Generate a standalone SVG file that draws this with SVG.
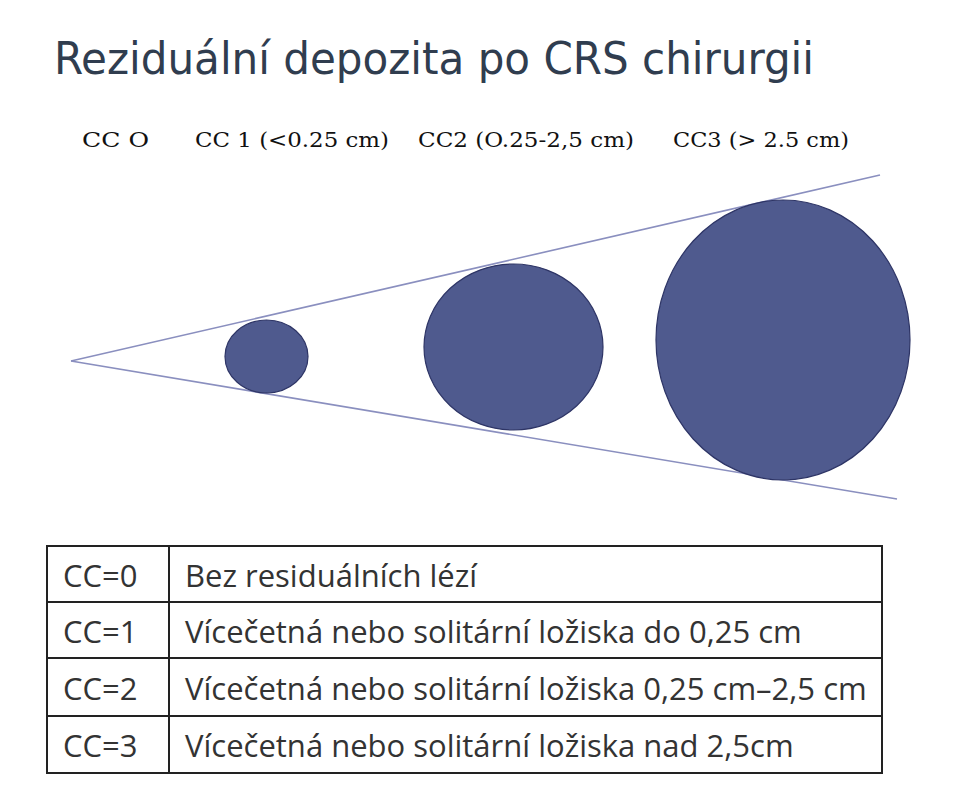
<svg xmlns="http://www.w3.org/2000/svg" width="965" height="800" viewBox="0 0 965 800">
<style>
.title{font-family:"DejaVu Sans Condensed","DejaVu Sans",sans-serif;font-size:45px;fill:#303d4f}
.lbl{font-family:"DejaVu Serif","Liberation Serif",serif;font-size:21px;fill:#111}
.cell{font-family:"Open Sans","Noto Sans",sans-serif;font-size:31px;fill:#333}
.blob{fill:#4f5a8e;stroke:#2e3566;stroke-width:1.2}
.ray{stroke:#8a8fbf;stroke-width:1.6;fill:none}
.grid{stroke:#222;stroke-width:2;fill:none}
</style>
<rect width="965" height="800" fill="#fff"/>
<text class="title" x="54" y="74" textLength="760" lengthAdjust="spacingAndGlyphs">Reziduální depozita po CRS chirurgii</text>
<g id="labels">
<text class="lbl" x="82" y="147" textLength="67" lengthAdjust="spacingAndGlyphs">CC O</text>
<text class="lbl" x="195" y="147" textLength="194" lengthAdjust="spacingAndGlyphs">CC 1  (&lt;0.25 cm)</text>
<text class="lbl" x="418" y="147" textLength="216" lengthAdjust="spacingAndGlyphs">CC2 (O.25-2,5 cm)</text>
<text class="lbl" x="673" y="147" textLength="176" lengthAdjust="spacingAndGlyphs">CC3 (&gt; 2.5 cm)</text>
</g>
<g id="connectors">
<line class="ray" x1="71" y1="361" x2="880" y2="175"/>
<line class="ray" x1="71" y1="361" x2="897" y2="499"/>
</g>
<g id="cc1"><ellipse class="blob" cx="266.5" cy="356.5" rx="41.5" ry="36.5"/></g>
<g id="cc2"><ellipse class="blob" cx="513.5" cy="347" rx="89.5" ry="83"/></g>
<g id="cc3"><ellipse class="blob" cx="783" cy="340" rx="127" ry="140"/></g>
<g id="table">
<rect class="grid" x="47" y="546" width="835" height="227"/>
<line class="grid" x1="47" y1="602" x2="882" y2="602"/>
<line class="grid" x1="47" y1="658" x2="882" y2="658"/>
<line class="grid" x1="47" y1="716" x2="882" y2="716"/>
<line class="grid" x1="169" y1="546" x2="169" y2="773"/>
<text class="cell" x="63" y="587">CC=0</text>
<text class="cell" x="185" y="587">Bez residuálních lézí</text>
<text class="cell" x="63" y="643">CC=1</text>
<text class="cell" x="185" y="643">Vícečetná nebo solitární ložiska do 0,25 cm</text>
<text class="cell" x="63" y="700">CC=2</text>
<text class="cell" x="185" y="700">Vícečetná nebo solitární ložiska 0,25 cm–2,5 cm</text>
<text class="cell" x="63" y="757">CC=3</text>
<text class="cell" x="185" y="757">Vícečetná nebo solitární ložiska nad 2,5cm</text>
</g>
</svg>
